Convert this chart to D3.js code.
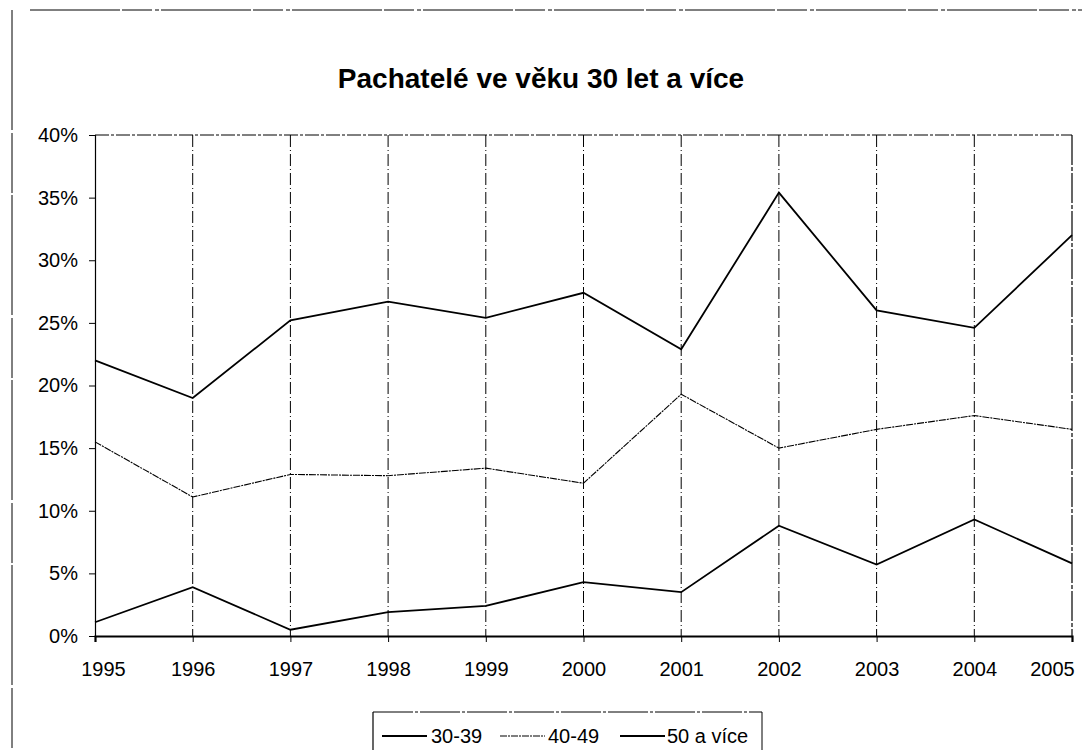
<!DOCTYPE html>
<html lang="cs">
<head>
  <meta charset="UTF-8" />
  <title>Pachatelé ve věku 30 let a více</title>
  <script src="https://d3js.org/d3.v7.min.js"></script>
  <style>
    body { margin: 0; background: #fff; }
    svg { display: block; font-family: 'Liberation Sans', Arial, sans-serif; }
    .tick text { font-size: 20px; fill: #000; }
  </style>
</head>
<body>
  <div id="chart"></div>
  <script>
    const years = [1995, 1996, 1997, 1998, 1999, 2000, 2001, 2002, 2003, 2004, 2005];
    const age30to39 = [22.0, 19.0, 25.2, 26.7, 25.4, 27.4, 22.9, 35.4, 26.0, 24.6, 32.0];
    const age40to49 = [15.5, 11.1, 12.9, 12.8, 13.4, 12.2, 19.3, 15.0, 16.5, 17.6, 16.5];
    const age50plus = [1.1, 3.9, 0.5, 1.9, 2.4, 4.3, 3.5, 8.8, 5.7, 9.3, 5.8];
    const yTicks = [0, 5, 10, 15, 20, 25, 30, 35, 40];

    const series = [
      { name: "30-39", values: age30to39, width: 1.8, dash: null },
      { name: "40-49", values: age40to49, width: 1.1, dash: "7,1,2,1" },
      { name: "50 a více", values: age50plus, width: 1.8, dash: null }
    ];

    const W = 1082, H = 750;
    const svg = d3.select("#chart").append("svg").attr("width", W).attr("height", H);

    // outer frame (left and top edge of the scanned chart box)
    svg.append("line").attr("x1", 12).attr("x2", 12).attr("y1", 10).attr("y2", H)
      .attr("stroke", "#000").attr("stroke-width", 1).attr("stroke-dasharray", "120,3,60,2");
    svg.append("line").attr("x1", 30).attr("x2", W).attr("y1", 10).attr("y2", 10)
      .attr("stroke", "#000").attr("stroke-width", 1).attr("stroke-dasharray", "90,2,30,3,4,2");

    svg.append("text").attr("x", 541).attr("y", 88).attr("text-anchor", "middle")
      .attr("font-size", 28).attr("font-weight", "bold").text("Pachatelé ve věku 30 let a více");

    const x = d3.scalePoint().domain(years).range([95, 1072]);
    const y = d3.scaleLinear().domain([0, 40]).range([636, 135]);

    // vertical dash-dot gridlines
    svg.append("g").selectAll("line").data(years.slice(1, -1)).join("line")
      .attr("x1", d => x(d)).attr("x2", d => x(d))
      .attr("y1", y(40)).attr("y2", y(0))
      .attr("stroke", "#000").attr("stroke-width", 1).attr("stroke-dasharray", "12,3,1,3");

    // top border and right border of plot area
    svg.append("line").attr("x1", x(1995)).attr("x2", x(2005)).attr("y1", y(40)).attr("y2", y(40))
      .attr("stroke", "#000").attr("stroke-width", 1).attr("stroke-dasharray", "14,2,3,2");
    svg.append("line").attr("x1", x(2005)).attr("x2", x(2005)).attr("y1", y(40)).attr("y2", y(0))
      .attr("stroke", "#000").attr("stroke-width", 1.2).attr("stroke-dasharray", "30,2,4,2");

    const yAxis = svg.append("g").attr("transform", `translate(${x(1995)},0)`)
      .call(d3.axisLeft(y).tickValues(yTicks).tickFormat(d => d + "%").tickSize(6).tickPadding(11));
    yAxis.select(".domain").attr("stroke-width", 1.2);

    const xAxis = svg.append("g").attr("transform", `translate(0,${y(0)})`)
      .call(d3.axisBottom(x).tickSize(6).tickPadding(20).tickFormat(d3.format("d")));
    xAxis.select(".domain").attr("stroke-width", 2.2);
    // first and last year labels sit slightly inside the plot edges
    xAxis.selectAll(".tick text")
      .attr("dx", d => d === years[0] ? 8 : d === years[years.length - 1] ? -20 : 0);

    const line = d3.line().x((d, i) => x(years[i])).y(d => y(d));
    svg.append("g").selectAll("path").data(series).join("path")
      .attr("d", d => line(d.values))
      .attr("fill", "none").attr("stroke", "#000")
      .attr("stroke-width", d => d.width)
      .attr("stroke-dasharray", d => d.dash)
      .attr("stroke-linejoin", "miter");

    // legend
    const lg = svg.append("g");
    lg.append("line").attr("x1", 373).attr("x2", 762).attr("y1", 712).attr("y2", 712)
      .attr("stroke", "#000").attr("stroke-width", 1).attr("stroke-dasharray", "40,2,3,2");
    lg.append("line").attr("x1", 373).attr("x2", 373).attr("y1", 712).attr("y2", H)
      .attr("stroke", "#000").attr("stroke-width", 1.2);
    lg.append("line").attr("x1", 762).attr("x2", 762).attr("y1", 712).attr("y2", H)
      .attr("stroke", "#000").attr("stroke-width", 1);
    const items = [
      { x0: 382, tx: 431 },
      { x0: 500, tx: 548 },
      { x0: 620, tx: 667 }
    ];
    series.forEach((s, i) => {
      lg.append("line").attr("x1", items[i].x0).attr("x2", items[i].x0 + 45)
        .attr("y1", 736).attr("y2", 736).attr("stroke", "#000")
        .attr("stroke-width", s.width).attr("stroke-dasharray", s.dash);
      lg.append("text").attr("x", items[i].tx).attr("y", 743)
        .attr("font-size", 20).text(s.name);
    });
  </script>
</body>
</html>
